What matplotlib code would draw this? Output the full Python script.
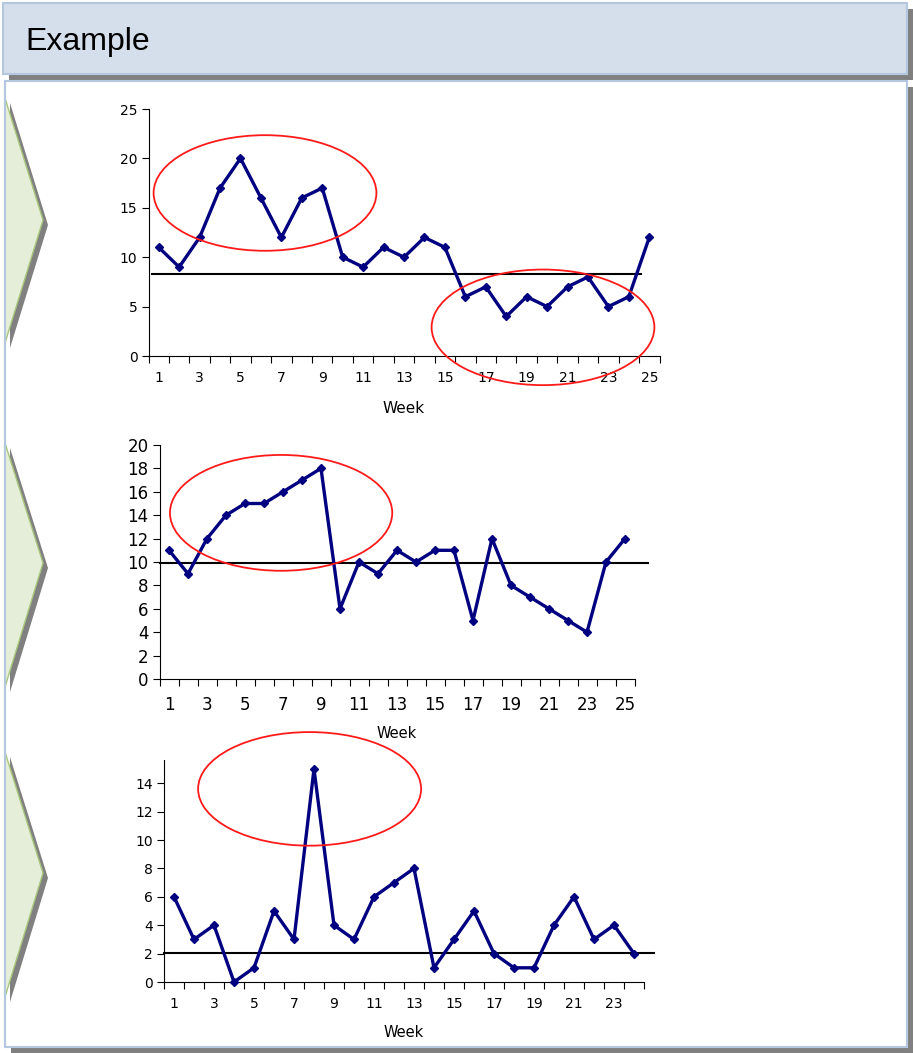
import matplotlib
matplotlib.use("Agg")
import matplotlib.pyplot as plt
from matplotlib.patches import Polygon, Rectangle, Ellipse
import numpy as np

# ---- data -------------------------------------------------------------
weeks_a = list(range(1, 26))
values_a = [11, 9, 12, 17, 20, 16, 12, 16, 17, 10, 9, 11, 10, 12, 11,
            6, 7, 4, 6, 5, 7, 8, 5, 6, 12]
center_a = 8.3

weeks_b = list(range(1, 26))
values_b = [11, 9, 12, 14, 15, 15, 16, 17, 18, 6, 10, 9, 11, 10, 11,
            11, 5, 12, 8, 7, 6, 5, 4, 10, 12]
center_b = 9.9

weeks_c = list(range(1, 25))
values_c = [6, 3, 4, 0, 1, 5, 3, 15, 4, 3, 6, 7, 8, 1, 3, 5, 2, 1, 1,
            4, 6, 3, 4, 2]
center_c = 2.05

title = "Example"
xlabel = "Week"

W, H = 913, 1053
DPI = 100
fig = plt.figure(figsize=(W / DPI, H / DPI), dpi=DPI)
fig.patch.set_facecolor("white")

# ---- slide background drawn in pixel coordinates ---------------------
bg = fig.add_axes([0, 0, 1, 1], zorder=-5)
bg.set_xlim(0, W)
bg.set_ylim(H, 0)
bg.axis("off")

shadow = "#808080"
# header bar
bg.add_patch(Rectangle((9, 9), 904, 71, facecolor=shadow, edgecolor="none"))
bg.add_patch(Rectangle((3, 3), 904, 71, facecolor="#d5dfeb",
                       edgecolor="#b3c7df", linewidth=1.5))
bg.text(25, 42, title, fontsize=23, family="Liberation Sans",
        va="center", ha="left", color="black")
# content panel
bg.add_patch(Rectangle((11, 87), 902, 966, facecolor=shadow, edgecolor="none"))
bg.add_patch(Rectangle((5, 81), 902, 966, facecolor="white",
                       edgecolor="#b3c7df", linewidth=1.5))

# chevrons at the left edge
for top, tip, bot in [(98, 220, 343), (443, 563, 687), (752, 873, 997)]:
    bg.add_patch(Polygon([(10, top + 5), (48, tip + 5), (10, bot + 5)],
                         closed=True, facecolor=shadow, edgecolor="none"))
    bg.add_patch(Polygon([(5, top), (43, tip), (5, bot)], closed=True,
                         facecolor="#e5eed9", edgecolor="#a8c67c", linewidth=1))
bg.plot([5, 5], [81, 1047], color="#b3c7df", lw=1.5)


def px_axes(x0, x1, y_bottom, y_top):
    return fig.add_axes([x0 / W, 1 - y_bottom / H, (x1 - x0) / W,
                         (y_bottom - y_top) / H])


def run_chart(ax, weeks, values, center, center_span, ylim, yticks,
              fs, label_fs, ellipses, tick_pad, label_pad):
    n = len(weeks)
    ax.plot(center_span, [center, center], color="black", lw=1.5,
            zorder=2, clip_on=False)
    ax.plot(weeks, values, color="#000080", lw=2.4, marker="D",
            markersize=3.8, zorder=3, clip_on=False)
    for (xc, yc, w, h) in ellipses:
        ax.add_patch(Ellipse((xc, yc), w, h, facecolor="none",
                             edgecolor="#ff1a1a", lw=1.3, clip_on=False,
                             zorder=4))
    ax.set_xlim(0.5, n + 0.5)
    ax.set_ylim(*ylim)
    ax.set_yticks(yticks)
    ax.set_xticks(np.arange(0.5, n + 1.0, 1.0))
    ax.set_xticklabels([])
    ax.set_xticks([w for w in weeks if w % 2 == 1], minor=True)
    ax.set_xticklabels([str(w) for w in weeks if w % 2 == 1], minor=True)
    ax.tick_params(axis="x", which="major", length=5, width=0.8,
                   direction="out")
    ax.tick_params(axis="x", which="minor", length=0, labelsize=fs,
                   pad=tick_pad)
    ax.tick_params(axis="y", length=5, width=0.8, labelsize=fs, pad=3)
    for s in ("top", "right"):
        ax.spines[s].set_visible(False)
    for s in ("left", "bottom"):
        ax.spines[s].set_linewidth(0.8)
    ax.set_xlabel(xlabel, fontsize=label_fs, labelpad=label_pad)
    ax.patch.set_alpha(0)


plt.rcParams["font.family"] = "DejaVu Sans"

ax1 = px_axes(148.5, 659.5, 356, 109)
run_chart(ax1, weeks_a, values_a, center_a, [0.66, 24.6], (0, 25),
          range(0, 26, 5), 10, 11,
          [(6.2, 16.5, 10.9, 11.7), (19.8, 2.9, 10.9, 11.7)], 11, 11)

ax2 = px_axes(159.5, 634.5, 679, 445)
run_chart(ax2, weeks_b, values_b, center_b, [0.5, 26.2], (0, 20),
          range(0, 21, 2), 12, 10.5, [(6.9, 14.2, 11.7, 9.9)], 12.5, 8.5)

ax3 = px_axes(164, 644, 982, 754.8)
run_chart(ax3, weeks_c, values_c, center_c, [0.5, 25.0], (0, 16),
          range(0, 17, 2), 10, 10.5, [(7.78, 13.6, 11.15, 8.0)], 11, 10)

# the top of the third chart is cut off just above the 14 label
top_mask = fig.add_axes([0, 0, 1, 1], zorder=10)
top_mask.set_xlim(0, W)
top_mask.set_ylim(H, 0)
top_mask.axis("off")
top_mask.add_patch(Rectangle((120, 740), 48, 19.5, facecolor="white",
                             edgecolor="none"))

fig.savefig("out.png", dpi=DPI)
